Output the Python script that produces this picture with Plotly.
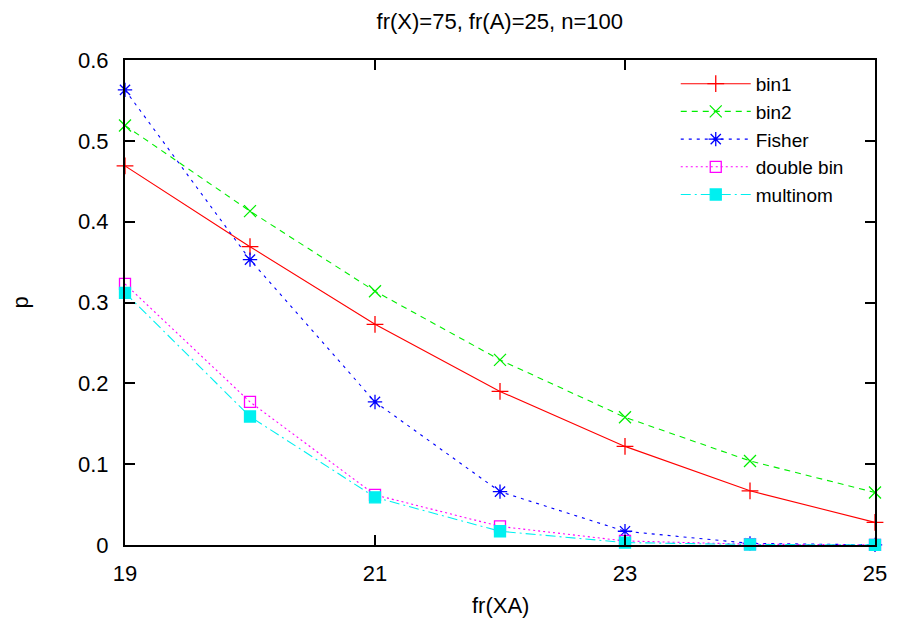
import plotly.graph_objects as go

x = [19, 20, 21, 22, 23, 24, 25]
bin1 = [0.469, 0.369, 0.273, 0.190, 0.122, 0.067, 0.028]
bin2 = [0.519, 0.413, 0.314, 0.229, 0.158, 0.104, 0.065]
fisher = [0.563, 0.353, 0.177, 0.066, 0.017, 0.002, 0.0002]
double_bin = [0.323, 0.177, 0.062, 0.023, 0.005, 0.001, 0.0001]
multinom = [0.312, 0.159, 0.059, 0.017, 0.003, 0.0006, 0.0001]

series = [
    ("bin1", bin1, "#ff0000", "solid", "cross-thin", 12),
    ("bin2", bin2, "#00ee00", "6px,5px", "x-thin", 12),
    ("Fisher", fisher, "#0000ff", "3px,5px", "asterisk", 12),
    ("double bin", double_bin, "#ff00ff", "2px,3px", "square-open", 11),
    ("multinom", multinom, "#00f0f0", "10px,4px,2px,4px", "square", 11),
]

fig = go.Figure()
for name, ys, col, dash, sym, sz in series:
    fig.add_trace(go.Scatter(
        x=x, y=ys, name=name, mode="lines+markers", cliponaxis=False,
        line=dict(color=col, width=1.1, dash=dash),
        marker=dict(symbol=sym, size=sz, color=col,
                    line=dict(color=col, width=1.3)),
    ))

font = dict(family="Liberation Sans, Arial, sans-serif", size=22, color="black")

fig.update_layout(
    width=909, height=627,
    margin=dict(l=117, r=42, t=52, b=90),
    paper_bgcolor="white", plot_bgcolor="white",
    font=font,
    title=dict(text="fr(X)=75, fr(A)=25, n=100", x=0.541, xanchor="center",
               y=0.978, yanchor="middle", font=dict(size=22)),
    showlegend=True,
    legend=dict(x=0.965, y=0.99, xanchor="right", yanchor="top",
                bgcolor="rgba(255,255,255,0)", font=dict(size=19),
                tracegroupgap=0, itemwidth=70),
    annotations=[
        dict(text="p", xref="paper", yref="paper", x=-0.14, y=0.5,
             xanchor="center", yanchor="middle", textangle=-90,
             showarrow=False, font=dict(size=22)),
        dict(text="fr(XA)", xref="paper", yref="paper", x=0.5, y=-0.124,
             xanchor="center", yanchor="middle",
             showarrow=False, font=dict(size=22)),
    ],
)
fig.update_xaxes(
    range=[19, 25], tickvals=[19, 21, 23, 25], ticks="inside", ticklen=10,
    tickwidth=1.5, tickcolor="black", showline=True, linecolor="black",
    linewidth=2, mirror="ticks", showgrid=False, zeroline=False,
    tickfont=dict(size=22), ticklabelstandoff=8,
)
fig.update_yaxes(
    range=[0, 0.6], tickvals=[0, 0.1, 0.2, 0.3, 0.4, 0.5, 0.6],
    ticktext=["0", "0.1", "0.2", "0.3", "0.4", "0.5", "0.6"],
    ticks="inside", ticklen=10, tickwidth=1.5, tickcolor="black",
    showline=True, linecolor="black", linewidth=2, mirror="ticks",
    showgrid=False, zeroline=False, tickfont=dict(size=22),
    ticklabelstandoff=10,
)

fig.write_html("out.html")
